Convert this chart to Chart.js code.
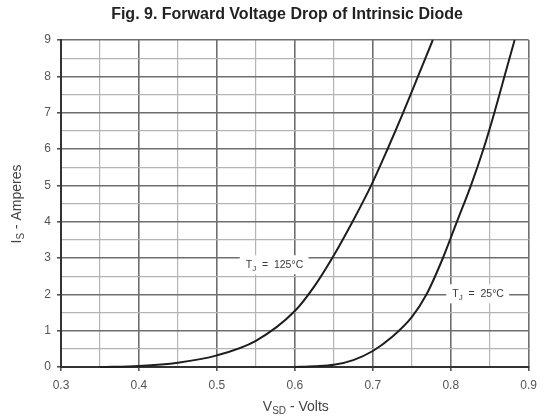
<!DOCTYPE html>
<html>
<head>
<meta charset="utf-8">
<script src="https://cdn.jsdelivr.net/npm/chart.js@4"></script>
<style>
  html, body { margin: 0; padding: 0; background: #fff; }
  #wrap { width: 544px; height: 420px; position: relative; }
</style>
</head>
<body>
<div id="wrap"><canvas id="c" width="544" height="420"></canvas></div>
<script>
// ---- data ----
const voltage125 = [0.35, 0.40, 0.45, 0.50, 0.55, 0.60, 0.625, 0.648, 0.674, 0.698, 0.719, 0.739, 0.758, 0.777];
const current125 = [0.00, 0.03, 0.12, 0.32, 0.72, 1.54, 2.22, 3.00, 4.00, 5.00, 6.00, 7.00, 8.00, 9.00];
const voltage25  = [0.60, 0.625, 0.65, 0.675, 0.70, 0.725, 0.75, 0.769, 0.790, 0.808, 0.826, 0.842, 0.856, 0.869, 0.882];
const current25  = [0.00, 0.02, 0.06, 0.19, 0.44, 0.83, 1.37, 2.00, 3.00, 4.00, 5.00, 6.00, 7.00, 8.00, 9.00];
const xTickLabels = ['0.3', '0.4', '0.5', '0.6', '0.7', '0.8', '0.9'];
const yTickLabels = ['0', '1', '2', '3', '4', '5', '6', '7', '8', '9'];
const titleText = 'Fig. 9. Forward Voltage Drop of Intrinsic Diode';
const curveLabels = [
  { main: 'T', sub: 'J', rest: '  =  125\u00B0C', v: 0.537, i: 2.8 },
  { main: 'T', sub: 'J', rest: '  =  25\u00B0C', v: 0.802, i: 2.0 }
];

const toPoints = (xs, ys) => xs.map((x, k) => ({ x: x, y: ys[k] }));

const FONT = '"Liberation Sans", Arial, sans-serif';

function drawSubText(ctx, x, y, main, sub, rest, size, align, weight) {
  const w = weight ? weight + ' ' : '';
  ctx.save();
  ctx.textBaseline = 'middle';
  ctx.font = w + size + 'px ' + FONT;
  const wMain = ctx.measureText(main).width;
  const wRest = ctx.measureText(rest).width;
  ctx.font = w + Math.round(size * 0.72) + 'px ' + FONT;
  const wSub = ctx.measureText(sub).width;
  const total = wMain + wSub + wRest;
  let sx = align === 'center' ? x - total / 2 : x;
  ctx.textAlign = 'left';
  ctx.font = w + size + 'px ' + FONT;
  ctx.fillText(main, sx, y);
  ctx.font = w + Math.round(size * 0.72) + 'px ' + FONT;
  ctx.fillText(sub, sx + wMain, y + size * 0.32);
  ctx.font = w + size + 'px ' + FONT;
  ctx.fillText(rest, sx + wMain + wSub, y);
  ctx.restore();
  return total;
}

const decorPlugin = {
  id: 'decor',
  beforeDatasetsDraw(chart) {
    const ctx = chart.ctx;
    const xs = chart.scales.x, ys = chart.scales.y;
    curveLabels.forEach(lb => {
      const px = xs.getPixelForValue(lb.v);
      const py = ys.getPixelForValue(lb.i);
      ctx.save();
      ctx.font = '10.5px ' + FONT;
      const w = ctx.measureText(lb.main + lb.sub + lb.rest).width;
      ctx.fillStyle = '#ffffff';
      ctx.fillRect(px - 6, py - 10, w + 10, 19);
      ctx.fillStyle = '#3a3a3a';
      drawSubText(ctx, px, py, lb.main, lb.sub, lb.rest, 10.5, 'left');
      ctx.restore();
    });
  },
  afterDraw(chart) {
    const ctx = chart.ctx;
    const area = chart.chartArea;
    ctx.save();
    // title
    ctx.fillStyle = '#222222';
    ctx.font = 'bold 16px ' + FONT;
    ctx.textAlign = 'center';
    ctx.textBaseline = 'middle';
    ctx.fillText(titleText, 287, 15);
    // x-axis title
    ctx.fillStyle = '#444444';
    drawSubText(ctx, (area.left + area.right) / 2 + 1, 407, 'V', 'SD', ' - Volts', 14, 'center');
    // y-axis title
    ctx.translate(17, 204);
    ctx.rotate(-Math.PI / 2);
    drawSubText(ctx, 0, 0, 'I', 'S', ' - Amperes', 14, 'center');
    ctx.restore();
  }
};

const isMajorX = v => Math.round(v * 100) % 10 === 0;
const isMajorY = v => Math.round(v * 10) % 10 === 0;

new Chart(document.getElementById('c'), {
  type: 'scatter',
  data: {
    datasets: [
      {
        label: 'TJ = 125\u00B0C',
        data: toPoints(voltage125, current125),
        showLine: true,
        borderColor: '#1e1e1e',
        borderWidth: 2,
        pointRadius: 0,
        cubicInterpolationMode: 'monotone',
        clip: 2
      },
      {
        label: 'TJ = 25\u00B0C',
        data: toPoints(voltage25, current25),
        showLine: true,
        borderColor: '#1e1e1e',
        borderWidth: 2,
        pointRadius: 0,
        cubicInterpolationMode: 'monotone',
        clip: 2
      }
    ]
  },
  options: {
    responsive: false,
    animation: false,
    layout: { padding: { top: 40, right: 10, left: 0, bottom: 0 } },
    plugins: {
      legend: { display: false },
      tooltip: { enabled: false },
      title: { display: false }
    },
    scales: {
      x: {
        type: 'linear',
        min: 0.3,
        max: 0.9,
        afterFit: s => { s.height = 53; },
        afterBuildTicks: s => {
          const t = [];
          for (let k = 0; k <= 12; k++) t.push({ value: Math.round((0.3 + k * 0.05) * 100) / 100 });
          s.ticks = t;
        },
        ticks: {
          autoSkip: false,
          maxRotation: 0,
          padding: 7,
          color: '#555555',
          font: { family: FONT, size: 12 },
          callback: v => isMajorX(v) ? xTickLabels[Math.round((v - 0.3) * 10)] : ''
        },
        grid: {
          color: c => isMajorX(c.tick.value) ? '#6e6e6e' : '#b4b4b4',
          lineWidth: c => isMajorX(c.tick.value) ? 1.6 : 1.2,
          tickColor: c => isMajorX(c.tick.value) ? '#555555' : 'rgba(0,0,0,0)',
          tickLength: 4
        },
        border: { color: '#333333', width: 2 }
      },
      y: {
        type: 'linear',
        min: 0,
        max: 9,
        afterFit: s => { s.width = 61; },
        afterBuildTicks: s => {
          const t = [];
          for (let k = 0; k <= 18; k++) t.push({ value: k * 0.5 });
          s.ticks = t;
        },
        ticks: {
          autoSkip: false,
          padding: 6,
          color: '#555555',
          font: { family: FONT, size: 12 },
          callback: v => isMajorY(v) ? yTickLabels[Math.round(v)] : ''
        },
        grid: {
          color: c => isMajorY(c.tick.value) ? '#6e6e6e' : '#b4b4b4',
          lineWidth: c => isMajorY(c.tick.value) ? 1.6 : 1.2,
          tickColor: c => isMajorY(c.tick.value) ? '#555555' : 'rgba(0,0,0,0)',
          tickLength: 4
        },
        border: { color: '#333333', width: 2 }
      }
    }
  },
  plugins: [decorPlugin]
});
</script>
</body>
</html>
